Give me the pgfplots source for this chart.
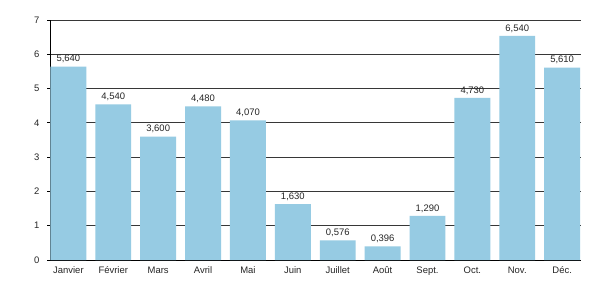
\documentclass[border=0pt]{standalone}
\usepackage{pgfplots}
\pgfplotsset{compat=1.18}
\usepackage{fontspec}
\setmainfont{Liberation Sans}
\definecolor{barblue}{RGB}{150,203,227}
\definecolor{gridgray}{RGB}{55,55,55}
\begin{document}
\begin{tikzpicture}
\useasboundingbox[fill=white] (-50bp,-40bp) rectangle (550bp,260bp);
\begin{axis}[
  at={(0,0)}, anchor=south west,
  scale only axis,
  width=531bp, height=240bp,
  xmin=-0.41, xmax=11.42,
  ymin=0, ymax=7,
  ytick={0,1,...,7},
  xtick={0,...,11},
  xticklabels={Janvier,Février,Mars,Avril,Mai,Juin,Juillet,Août,Sept.,Oct.,Nov.,Déc.},
  axis x line*=bottom,
  axis y line*=left,
  axis line style={black, line width=1pt},
  ymajorgrids,
  grid style={gridgray, line width=0.8pt},
  xtick style={draw=none},
  ytick style={black, line width=0.8pt},
  tick align=outside,
  major tick length=3bp,
  tick label style={font=\fontsize{9.5}{11}\selectfont, text=black!85},
  yticklabel style={xshift=-4bp},
  /pgf/number format/assume math mode=true,
  yticklabel style={/pgf/number format/fixed},
  ybar, bar width=0.8,
  bar shift=0pt,
  nodes near coords,
  nodes near coords style={font=\fontsize{9.5}{11}\selectfont, text=black!85,
    /pgf/number format/.cd, fixed, fixed zerofill, precision=3, use comma, assume math mode=true},
  clip=false,
]
\addplot[fill=barblue, draw=none] coordinates {
(0,5.640) (1,4.540) (2,3.600) (3,4.480) (4,4.070) (5,1.630)
(6,0.576) (7,0.396) (8,1.290) (9,4.730) (10,6.540) (11,5.610)};
\end{axis}
\end{tikzpicture}
\end{document}
